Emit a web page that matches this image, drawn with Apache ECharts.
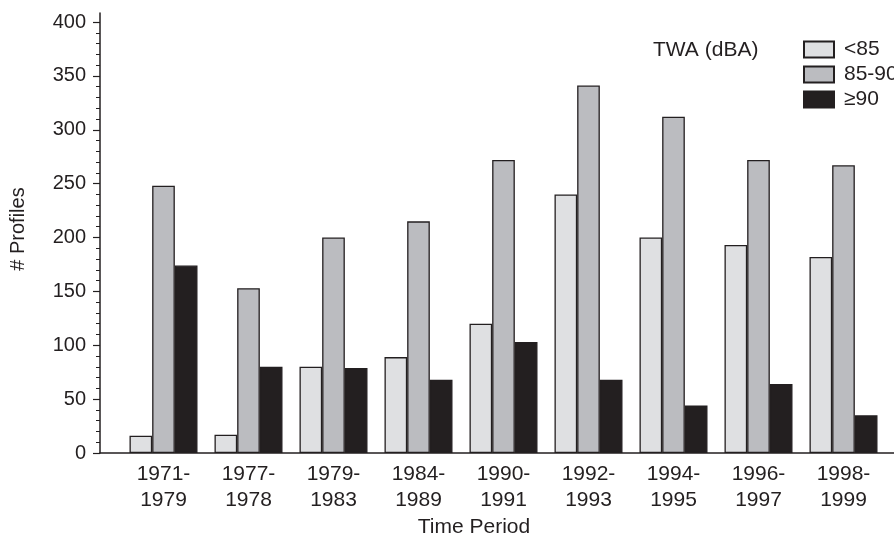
<!DOCTYPE html>
<html>
<head>
<meta charset="utf-8">
<script src="https://cdn.jsdelivr.net/npm/echarts@6/dist/echarts.min.js"></script>
<style>html,body{margin:0;padding:0;background:#fff}#c{width:894px;height:535px}</style>
</head>
<body>
<div id="c"></div>
<script>
const categories = ['1971-\n1979','1977-\n1978','1979-\n1983','1984-\n1989','1990-\n1991','1992-\n1993','1994-\n1995','1996-\n1997','1998-\n1999'];
const seriesNames = ['<85','85-90','\u226590'];
const below85 = [16, 17, 80, 89, 120, 240, 200, 193, 182];
const from85to90 = [248, 153, 200, 215, 272, 341, 312, 272, 267];
const atLeast90 = [174, 80, 79, 68, 103, 68, 44, 64, 35];
const yTicks = {min: 0, max: 400, interval: 50};

const ink = '#231f20';
const fills = ['#dfe0e2', '#bbbcc0', '#231f20'];
const values = [below85, from85to90, atLeast90];
const font = 'Liberation Sans, Arial, sans-serif';

const chart = echarts.init(document.getElementById('c'), null, {renderer: 'canvas'});
chart.setOption({
  animation: false,
  backgroundColor: '#ffffff',
  textStyle: {fontFamily: font, color: ink},
  title: [
    {text: 'TWA (dBA)', left: 648, top: 35, textStyle: {fontSize: 21, fontWeight: 'normal', color: ink, fontFamily: font}},
    {text: 'Time Period', left: 469, top: 512, textAlign: 'center', textStyle: {fontSize: 21, fontWeight: 'normal', color: ink, fontFamily: font}}
  ],
  legend: {
    orient: 'vertical', left: 798, top: 34, itemWidth: 30, itemHeight: 16, itemGap: 4,
    icon: 'rect',
    data: seriesNames,
    textStyle: {fontSize: 21, color: ink, lineHeight: 21, padding: [0, 0, 0, 5], fontFamily: font}
  },
  grid: [
    {left: 100, right: 0, top: 13, bottom: 82},
    {left: 121, right: 8, top: 22, bottom: 82}
  ],
  xAxis: [
    {gridIndex: 0, type: 'value', min: 0, max: 1, axisLine: {show: true, lineStyle: {color: ink, width: 1.5}}, axisTick: {show: false}, axisLabel: {show: false}, splitLine: {show: false}},
    {gridIndex: 1, type: 'category', data: categories, axisLine: {show: false}, axisTick: {show: false},
     axisLabel: {fontSize: 21, lineHeight: 26, margin: 8, color: ink, fontFamily: font}}
  ],
  yAxis: [
    {gridIndex: 0, type: 'value', min: 0, max: 1, axisLine: {show: true, lineStyle: {color: ink, width: 1.5}}, axisTick: {show: false}, axisLabel: {show: false}, splitLine: {show: false},
     name: '# Profiles', nameLocation: 'middle', nameGap: 72, nameRotate: 90, nameTextStyle: {fontSize: 20, color: ink, fontFamily: font, padding: [0, 0, 0, 8]}},
    {gridIndex: 1, type: 'value', min: yTicks.min, max: yTicks.max, interval: yTicks.interval, offset: 21,
     axisLine: {show: false},
     axisTick: {show: true, length: 7, lineStyle: {color: ink, width: 1.2}},
     minorTick: {show: true, splitNumber: 5, length: 4, lineStyle: {color: ink, width: 1}},
     axisLabel: {fontSize: 20, margin: 14, color: ink, fontFamily: font},
     splitLine: {show: false}}
  ],
  series: values.map((v, i) => ({
    name: seriesNames[i], type: 'bar', xAxisIndex: 1, yAxisIndex: 1, data: v,
    barGap: '0%', barCategoryGap: '20%',
    itemStyle: {color: fills[i], borderColor: ink, borderWidth: 1.3}
  }))
});
</script>
</body>
</html>
